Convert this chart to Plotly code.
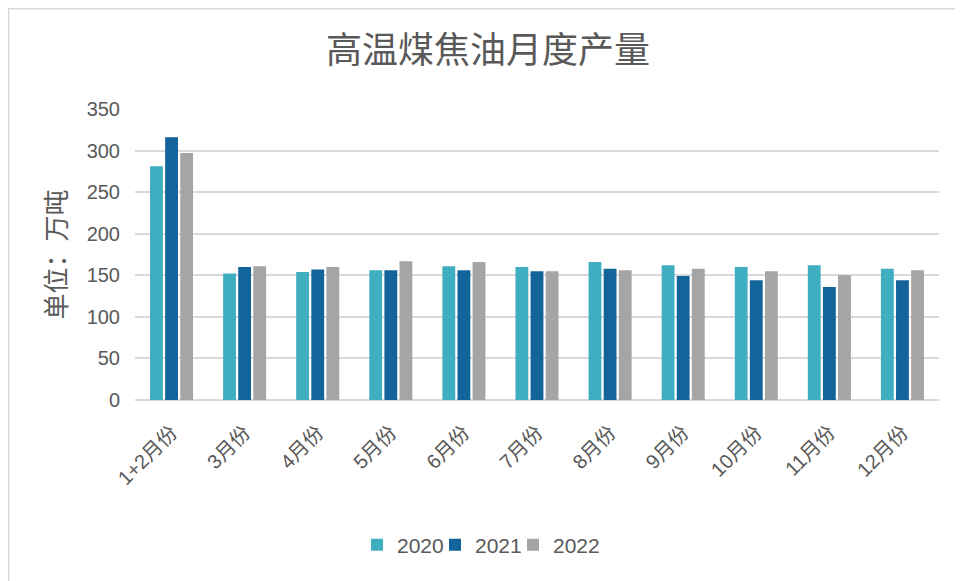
import plotly.graph_objects as go

categories = ["1+2月份", "3月份", "4月份", "5月份", "6月份", "7月份", "8月份", "9月份", "10月份", "11月份", "12月份"]
y2020 = [281, 152, 154, 156, 161, 160, 166, 162, 160, 162, 158]
y2021 = [316, 160, 157, 156, 156, 155, 158, 149, 144, 136, 144]
y2022 = [297, 161, 160, 167, 166, 155, 156, 158, 155, 150, 156]
series_names = ["2020", "2021", "2022"]
colors = ["#3FAEC0", "#14649C", "#A5A5A5"]

# page body has an 8px margin; compensate
O = 8
W, H = 963 - O, 581 - O
L, R, T, B = 135 - O, 24, 109 - O, 181
pw, ph = W - L - R, H - T - B

def px_x(x):
    return (x - O - L) / pw

def px_y(y):
    return (H - B - (y - O)) / ph

text_color = "#595959"
font_fam = "Liberation Sans, Noto Sans CJK SC, sans-serif"

legend_ids = ["legend", "legend2", "legend3"]
legend_text_x = [397, 475, 553]

fig = go.Figure()
for name, vals, c, lid in zip(series_names, [y2020, y2021, y2022], colors, legend_ids):
    fig.add_trace(go.Bar(name=name, x=categories, y=vals, marker_color=c,
                         marker_line_width=0, legend=lid))

legend_layout = {}
for lid, tx in zip(legend_ids, legend_text_x):
    legend_layout[lid] = dict(orientation="h", x=px_x(tx - 40), xanchor="left",
                              y=px_y(545), yanchor="middle",
                              font=dict(size=21, color=text_color),
                              bgcolor="rgba(0,0,0,0)", borderwidth=0)

fig.update_layout(
    width=W, height=H,
    margin=dict(l=L, r=R, t=T, b=B, autoexpand=False),
    paper_bgcolor="white", plot_bgcolor="white",
    barmode="group", bargap=0.38, bargroupgap=0.15,
    font=dict(family=font_fam, color=text_color, size=19),
    title=dict(text="高温煤焦油月度产量", x=(488 - O) / W, xanchor="center",
               y=1 - (50 - O) / H, yanchor="middle",
               font=dict(size=36, color=text_color, family="Noto Sans CJK SC")),
    showlegend=True,
    **legend_layout,
)
fig.update_yaxes(range=[0, 350], dtick=50, showgrid=True, gridcolor="#D9D9D9",
                 gridwidth=1.5, zeroline=True, zerolinecolor="#D9D9D9", zerolinewidth=1.5,
                 showline=False, ticks="", ticklabelstandoff=14,
                 tickfont=dict(size=20, color=text_color),
                 title=dict(text="单位：万吨", standoff=12,
                            font=dict(size=26, color=text_color, family="Noto Sans CJK SC")))
fig.update_xaxes(showline=False, ticks="", tickangle=-45, showgrid=False,
                 ticklabelstandoff=16,
                 tickfont=dict(size=20, color=text_color, family=font_fam))

fig.add_shape(type="rect", xref="paper", yref="paper",
              x0=px_x(8.75), x1=px_x(975), y0=px_y(8.75), y1=px_y(600),
              line=dict(color="#D9D9D9", width=1.5), fillcolor="rgba(0,0,0,0)", layer="below")

fig.write_html("out.html")
